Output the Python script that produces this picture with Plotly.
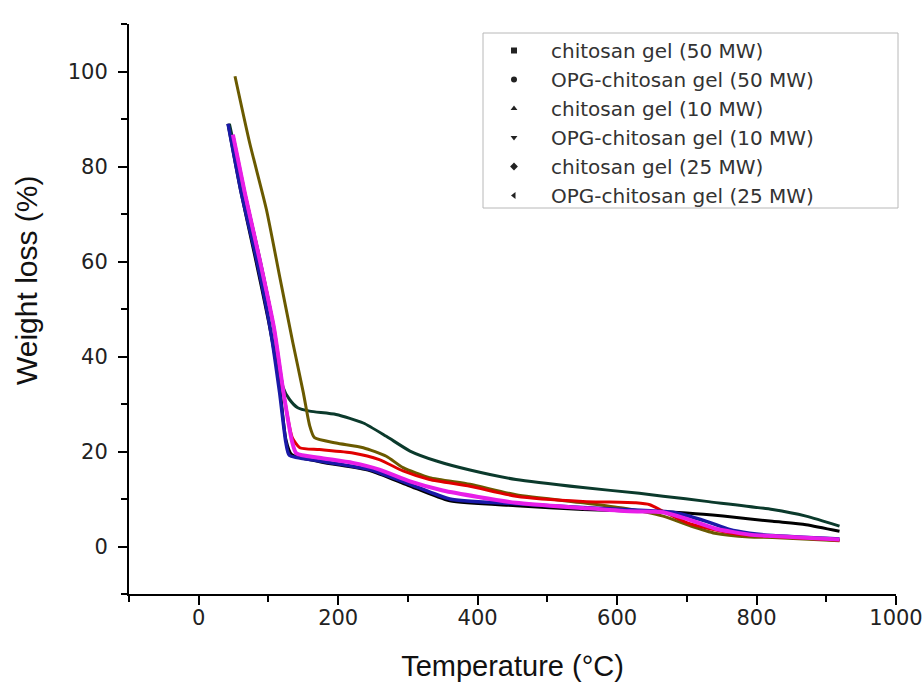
import plotly.graph_objects as go

# ---- data (Temperature °C, Weight loss %) ----
names = ["chitosan gel (50 MW)", "OPG-chitosan gel (50 MW)", "chitosan gel (10 MW)",
         "OPG-chitosan gel (10 MW)", "chitosan gel (25 MW)", "OPG-chitosan gel (25 MW)"]

t_c50 = [42, 60, 80, 100, 115, 125, 133, 175, 245, 300, 360, 455, 551, 640, 704, 752, 823, 871, 919]
w_c50 = [89, 75, 61.5, 47.5, 35, 22.5, 19.4, 17.8, 16.0, 12.9, 9.6, 8.6, 7.8, 7.4, 7.0, 6.4, 5.3, 4.6, 3.2]

t_o50 = [50, 66, 88, 108, 122, 134, 145, 173, 221, 259, 293, 331, 389, 455, 551, 627, 647, 666, 704, 776, 823, 919]
w_o50 = [86, 74.5, 60, 46, 32, 23, 20.8, 20.4, 19.7, 18.3, 15.9, 14.1, 12.7, 10.6, 9.5, 9.2, 8.8, 7.4, 4.8, 2.5, 2.1, 1.3]

t_c10 = [42, 61, 83, 102, 116, 125, 130, 173, 245, 303, 360, 455, 551, 640, 680, 728, 761, 790, 823, 919]
w_c10 = [89, 74.5, 60.4, 46.4, 32.4, 21.9, 19.2, 18.0, 16.2, 13.1, 10.0, 9.0, 8.2, 7.6, 7.2, 5.3, 3.6, 2.8, 2.3, 1.6]

t_o10 = [44, 65, 87, 107, 121, 130, 142, 159, 197, 236, 269, 303, 341, 389, 455, 551, 632, 666, 728, 823, 871, 919]
w_o10 = [89, 75, 61, 46.5, 33.5, 31, 29.2, 28.5, 27.8, 26, 23.2, 20.1, 18.0, 16.1, 14.1, 12.4, 11.2, 10.6, 9.5, 7.8, 6.4, 4.3]

t_c25 = [49, 66, 88, 108, 122, 134, 140, 173, 221, 259, 303, 350, 455, 551, 618, 666, 700, 740, 790, 823, 919]
w_c25 = [86.7, 74.5, 60, 46, 32, 22, 19.6, 18.7, 17.6, 16.2, 13.7, 11.8, 9.2, 8.1, 7.4, 7.2, 5.8, 3.8, 2.5, 2.2, 1.5]

t_o25 = [52, 73, 97, 116, 135, 150, 159, 166, 197, 236, 269, 293, 331, 389, 455, 551, 608, 666, 704, 740, 790, 823, 919]
w_o25 = [99, 85, 71, 56.9, 42.9, 32.4, 25.5, 22.9, 21.8, 20.8, 19, 16.6, 14.5, 13.1, 10.9, 9.2, 8.1, 6.4, 4.4, 2.8, 2.0, 1.9, 1.2]

series_t = [t_c50, t_o50, t_c10, t_o10, t_c25, t_o25]
series_w = [w_c50, w_o50, w_c10, w_o10, w_c25, w_o25]
colors = ["#000000", "#e00000", "#1a1aa8", "#0b3a2c", "#e81ee8", "#6a5a00"]
widths = [3, 3, 3.5, 3, 4, 3]
symbols = ["square", "circle", "triangle-up", "triangle-down", "diamond", "triangle-left"]
draw_order = [0, 3, 5, 1, 2, 4]  # later = on top

x_ticks = [0, 200, 400, 600, 800, 1000]
y_ticks = [0, 20, 40, 60, 80, 100]

fig = go.Figure()

# line traces (legend handled by marker-only entries below)
for i in draw_order:
    fig.add_trace(go.Scatter(
        x=series_t[i], y=series_w[i], mode="lines", name=names[i],
        line=dict(color=colors[i], width=widths[i], shape="spline", smoothing=0.6),
        showlegend=False))

# legend entries: symbols only, as in the reference
for i in range(6):
    fig.add_trace(go.Scatter(
        x=[None], y=[None], mode="markers", name=names[i],
        marker=dict(symbol=symbols[i], size=6, color="#222222")))

L, R, T, B = 129, 28, 24, 88
W, H = 924, 682
pw, ph = W - L - R, H - T - B

def px2paper(x, y):
    return (x - L) / pw, (H - B - y) / ph

lx0, ly0 = px2paper(483, 208)
lx1, ly1 = px2paper(898, 33)
fig.add_shape(type="rect", xref="paper", yref="paper", x0=lx0, y0=ly0, x1=lx1, y1=ly1,
              line=dict(color="#b8b8b8", width=1), fillcolor="rgba(0,0,0,0)")

legx, legy = px2paper(477, 31)

axis_font = dict(family="DejaVu Sans", size=21, color="#222222")
fig.update_layout(
    width=W, height=H,
    margin=dict(l=L, r=R, t=T, b=B, autoexpand=False),
    paper_bgcolor="white", plot_bgcolor="white",
    showlegend=True,
    legend=dict(x=legx, y=legy, xanchor="left", yanchor="top", tracegroupgap=0,
                bgcolor="rgba(0,0,0,0)", borderwidth=0, itemwidth=64,
                font=dict(family="DejaVu Sans", size=20, color="#333333")),
    xaxis=dict(range=[-100, 1000], tickvals=x_ticks, ticktext=[str(v) for v in x_ticks],
               automargin=False,
               showline=True, linecolor="black", linewidth=2, mirror=False,
               ticks="outside", ticklen=9, tickwidth=2, tickcolor="black",
               minor=dict(dtick=100, tick0=0, ticks="outside", ticklen=6, tickwidth=2, tickcolor="black"),
               showgrid=False, zeroline=False, tickfont=axis_font, ticklabelstandoff=-5,
               title=dict(text="Temperature (°C)", standoff=29,
                          font=dict(family="Liberation Sans", size=29, color="#111111"))),
    yaxis=dict(range=[-10, 110], tickvals=y_ticks, ticktext=[str(v) for v in y_ticks],
               automargin=False,
               showline=True, linecolor="black", linewidth=2, mirror=False,
               ticks="outside", ticklen=9, tickwidth=2, tickcolor="black",
               minor=dict(dtick=10, tick0=-10, ticks="outside", ticklen=6, tickwidth=2, tickcolor="black"),
               showgrid=False, zeroline=False, tickfont=axis_font, ticklabelstandoff=6),
)

# y-axis title placed where the reference has it (slightly above centre)
ya_x, ya_y = px2paper(26, 280)
fig.add_annotation(text="Weight loss (%)", xref="paper", yref="paper", x=ya_x, y=ya_y,
                   textangle=-90, showarrow=False, xanchor="center", yanchor="middle",
                   font=dict(family="Liberation Sans", size=30, color="#111111"))

fig.write_html("out.html")
